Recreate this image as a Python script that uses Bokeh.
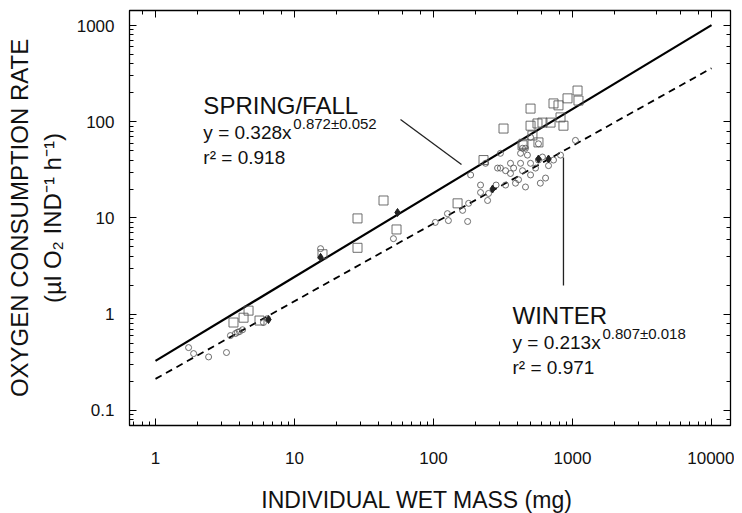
from bokeh.plotting import figure
from bokeh.models import Label, LogAxis, CustomJSTickFormatter, Range1d
from bokeh.embed import file_html
from bokeh.resources import INLINE

# ---- data ----
spring_mass = [15.9, 28.4, 28.4, 43.7, 54.2, 149, 229, 319, 499, 730,
               793, 921, 1087, 1104, 820, 861, 499, 560, 608, 695,
               444, 569, 515, 437, 3.64, 4.30, 4.67, 5.6]
spring_rate = [4.2, 9.9, 4.9, 15.2, 7.6, 14.2, 40, 85, 137, 155,
               148, 175, 211, 166, 111, 91, 91, 96, 98, 98,
               59, 61, 72, 57, 0.82, 0.92, 1.09, 0.86]

winter_mass = [1.73, 1.88, 2.41, 3.24, 3.46, 3.76, 4.02, 3.89, 4.23, 5.98,
               6.39, 15.4, 51.5, 103, 126, 128, 162, 179, 176, 185,
               218, 249, 245, 237, 303, 437, 459, 423, 474, 499,
               569, 303, 330, 358, 377, 358, 389, 409, 499, 542,
               569, 608, 499, 437, 423, 218, 282, 330, 459, 587,
               640, 672, 730, 820, 1050, 289]
winter_rate = [0.45, 0.39, 0.36, 0.40, 0.60, 0.63, 0.66, 0.65, 0.69, 0.82,
               0.90, 4.8, 6.1, 9.0, 11.1, 9.4, 12.0, 14.2, 9.2, 28,
               18.4, 18.0, 15.2, 37, 47, 53, 53, 47, 45, 69,
               59, 33, 31, 37, 33, 29, 23, 25, 37, 33,
               40, 43, 28, 31, 37, 22, 22, 22, 21, 23,
               26, 35, 40, 45, 64, 33]

mean_mass = [15.4, 55.1, 266, 569, 672, 6.5]
mean_rate = [3.9, 11.4, 20, 41, 41, 0.88]

# regression fits: y = a * x^b
fit_x = [1, 10000]
spring_a, spring_b = 0.328, 0.872
winter_a, winter_b = 0.213, 0.807

x_lim = (0.65, 13700)
y_lim = (0.0698, 1432)

# annotation anchors (data units)
spring_leader_x = [57.9, 159]
spring_leader_y = [105.5, 36]
winter_leader_x = [861, 861]
winter_leader_y = [42.6, 1.99]

FONT = "Liberation Sans"

p = figure(x_axis_type="log", y_axis_type="log",
           x_range=Range1d(*x_lim), y_range=Range1d(*y_lim),
           frame_width=601, frame_height=415,
           min_border_left=129, min_border_right=4,
           min_border_top=10, min_border_bottom=80,
           output_backend="svg", toolbar_location=None)
p.background_fill_color = "white"
p.border_fill_color = "white"
p.grid.visible = False
p.outline_line_color = "black"
p.outline_line_width = 1.3

fmt = CustomJSTickFormatter(code="return String(Number(tick.toPrecision(6)));")

for ax in (p.xaxis[0], p.yaxis[0]):
    ax.formatter = fmt
    ax.major_tick_in = 7
    ax.major_tick_out = 0
    ax.minor_tick_in = 4
    ax.minor_tick_out = 0
    ax.axis_line_color = "black"
    ax.major_tick_line_color = "black"
    ax.minor_tick_line_color = "black"
    ax.major_label_text_font = FONT
    ax.major_label_text_font_size = "17px"
    ax.major_label_text_color = "#111111"
    ax.axis_label_text_font = FONT
    ax.axis_label_text_font_style = "normal"
    ax.axis_label_text_color = "#111111"

p.yaxis[0].major_label_standoff = 15
p.xaxis[0].major_label_standoff = 26
p.xaxis[0].axis_label = "INDIVIDUAL WET MASS (mg)" + "\u00a0" * 4
p.xaxis[0].axis_label_text_font_size = "23px"
p.xaxis[0].axis_label_standoff = 20
p.yaxis[0].axis_label = "OXYGEN CONSUMPTION RATE\n(\u00b5l O\u2082 IND\u207b\u00b9 h\u207b\u00b9)"
p.yaxis[0].axis_label_text_font_size = "24px"
p.yaxis[0].axis_label_standoff = 8

# mirrored tick axes on top and right (labels hidden)
blank = CustomJSTickFormatter(code="return '';")
for loc in ("above", "right"):
    a = LogAxis(major_tick_in=7, major_tick_out=0, minor_tick_in=4, minor_tick_out=0,
                formatter=blank, major_label_text_font_size="1px",
                major_label_text_alpha=0, major_label_standoff=0,
                axis_line_color="black")
    p.add_layout(a, loc)

# fitted lines
p.line(fit_x, [spring_a * v ** spring_b for v in fit_x], line_color="black", line_width=2.2)
p.line(fit_x, [winter_a * v ** winter_b for v in fit_x], line_color="black", line_width=1.8,
       line_dash="7 5")

# data points
p.scatter(spring_mass, spring_rate, marker="square", size=9, fill_color=None,
          line_color="#555555", line_width=1.0, line_alpha=0.85)
p.scatter(winter_mass, winter_rate, marker="circle", size=6, fill_color=None,
          line_color="#555555", line_width=1.0, line_alpha=0.85)
p.scatter(mean_mass, mean_rate, marker="diamond", size=8, fill_color="#222222",
          line_color="#222222")

# leader lines
p.line(spring_leader_x, spring_leader_y, line_color="#222222", line_width=1.3)
p.line(winter_leader_x, winter_leader_y, line_color="#222222", line_width=1.3)

def lab(x, y, text, size, xoff=0):
    p.add_layout(Label(x=x, y=y, text=text, x_offset=xoff, text_font=FONT,
                       text_font_size=size, text_color="#111111",
                       text_baseline="alphabetic", text_align="left"))

# spring/fall annotation
lab(2.21, 147.6, "SPRING/FALL", "24px")
lab(2.21, 77.3, "y = 0.328x", "19px")
lab(2.21, 96, "0.872\u00b10.052", "15px", xoff=90)
lab(2.21, 42.6, "r\u00b2 = 0.918", "19px")

# winter annotation
lab(370, 0.97, "WINTER", "24px")
lab(370, 0.508, "y = 0.213x", "19px")
lab(370, 0.631, "0.807\u00b10.018", "15px", xoff=90)
lab(370, 0.28, "r\u00b2 = 0.971", "19px")

open("out.html", "w").write(file_html(p, INLINE))
